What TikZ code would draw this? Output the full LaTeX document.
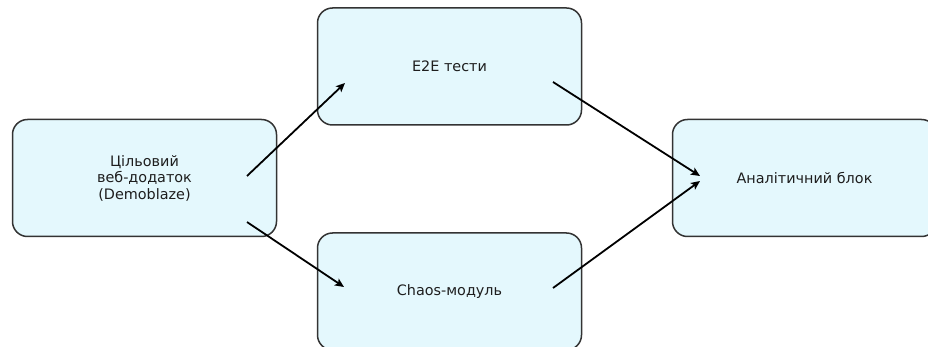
\documentclass[tikz,border=0pt]{standalone}
\usepackage{fontspec}
\setmainfont{DejaVu Sans}
\usetikzlibrary{calc,arrows.meta}
\definecolor{boxfill}{HTML}{E4F8FD}
\definecolor{boxline}{HTML}{333333}
\definecolor{txt}{HTML}{1E1E1E}
\tikzset{
  blk/.style={draw=boxline, fill=boxfill, line width=1.5pt, rounded corners=15pt,
    minimum width=264pt, minimum height=117pt, inner sep=0pt, align=center,
    text=txt, font=\fontsize{14.4}{16.5}\selectfont},
  arr/.style={draw=black, line width=1.8pt, -{Stealth[length=9pt,width=8pt,inset=2pt]}}
}
\begin{document}
\begin{tikzpicture}[x=1pt,y=-1pt]
\useasboundingbox (0,0) rectangle (928,347);
\node[blk] (l) at (144.5,178) {Цільовий\\веб-додаток\\(Demoblaze)};
\node[blk] (t) at (449.5,66.5) {E2E тести};
\node[blk] (b) at (449.5,291.5) {Chaos-модуль};
\node[blk] (r) at (804.5,178) {Аналітичний блок};
\draw[arr] ($(l.center)+(102.5,-2)$) -- ($(t.center)+(-104.5,16.5)$);
\draw[arr] ($(l.center)+(102.5,44)$) -- ($(b.center)+(-105.5,-4.5)$);
\draw[arr] ($(t.center)+(103.5,15.5)$) -- ($(r.center)+(-104.5,-2)$);
\draw[arr] ($(b.center)+(103.5,-3.5)$) -- ($(r.center)+(-104.5,3)$);
\end{tikzpicture}
\end{document}
